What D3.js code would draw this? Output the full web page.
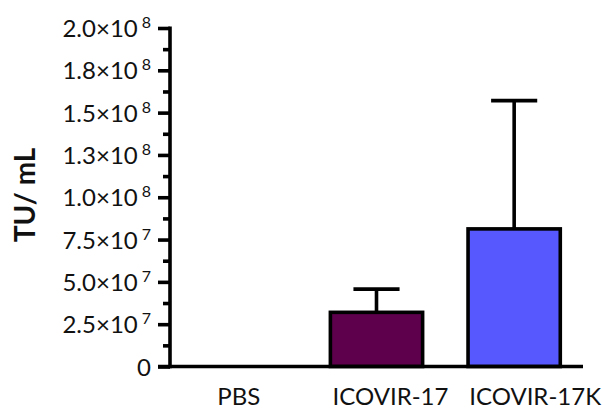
<!DOCTYPE html>
<html>
<head>
<meta charset="utf-8">
<script src="https://cdn.jsdelivr.net/npm/d3@7"></script>
<style>
  body { margin: 0; background: #fff; }
  text { font-family: Lato, "Open Sans", sans-serif; fill: #111; }
</style>
</head>
<body>
<script>
// data
var categories = ["PBS", "ICOVIR-17", "ICOVIR-17K"];
var means = [0, 3.2e7, 8.13e7];
var errors = [0, 1.37e7, 7.58e7];
var colors = ["#ffffff", "#5e004c", "#5858ff"];
var majorTicks = [0, 2.5e7, 5.0e7, 7.5e7, 1.0e8, 1.25e8, 1.5e8, 1.75e8, 2.0e8];
var tickLabels = ["0", "2.5×10|7", "5.0×10|7", "7.5×10|7", "1.0×10|8", "1.3×10|8", "1.5×10|8", "1.8×10|8", "2.0×10|8"];

// the category labels sit a bit right of the bar centres in the original
var labelShift = [0, 14, 21];
var lw = 3.6;

var svg = d3.select("body").append("svg")
    .attr("width", 602).attr("height", 412);

var y = d3.scaleLinear().domain([0, 2e8]).range([366.5, 28]);
var x = d3.scaleBand().domain(categories).range([170, 583])
    .paddingInner(0.33).paddingOuter(0.165);

// bars
svg.selectAll("rect.bar")
    .data(categories)
    .enter()
    .append("rect")
    .attr("class", "bar")
    .attr("x", function(d){ return x(d); })
    .attr("width", x.bandwidth())
    .attr("y", function(d, i){ return y(means[i]); })
    .attr("height", function(d, i){ return y(0) - y(means[i]); })
    .attr("fill", function(d, i){ return colors[i]; })
    .style("stroke", "#000")
    .style("stroke-width", function(d, i){ return means[i] > 0 ? lw : 0; });

// error bars (upper only)
var eb = svg.selectAll("g.err")
    .data(categories.filter(function(d, i){ return errors[i] > 0; }))
    .enter()
    .append("g").attr("class", "err");
eb.append("line")
    .attr("x1", function(d){ return x(d) + x.bandwidth() / 2; })
    .attr("x2", function(d){ return x(d) + x.bandwidth() / 2; })
    .attr("y1", function(d){ var i = categories.indexOf(d); return y(means[i]); })
    .attr("y2", function(d){ var i = categories.indexOf(d); return y(means[i] + errors[i]); })
    .style("stroke", "#000").style("stroke-width", lw);
eb.append("line")
    .attr("x1", function(d){ return x(d) + x.bandwidth() / 4; })
    .attr("x2", function(d){ return x(d) + x.bandwidth() * 3 / 4; })
    .attr("y1", function(d){ var i = categories.indexOf(d); return y(means[i] + errors[i]); })
    .attr("y2", function(d){ var i = categories.indexOf(d); return y(means[i] + errors[i]); })
    .style("stroke", "#000").style("stroke-width", lw);

// y axis: minor ticks
var minorTicks = d3.range(1.25e7, 2e8, 2.5e7);
var yMinor = d3.axisLeft(y).tickValues(minorTicks).tickSize(7).tickFormat("");
svg.append("g").attr("transform", "translate(170,0)").call(yMinor)
    .call(function(g){ g.select(".domain").remove(); })
    .selectAll("line").style("stroke", "#000").style("stroke-width", lw);

// y axis: major ticks
var yAxis = d3.axisLeft(y).tickValues(majorTicks).tickSize(12).tickFormat("");
var ga = svg.append("g").attr("transform", "translate(170,0)").call(yAxis);
ga.select(".domain").style("stroke", "#000").style("stroke-width", lw)
    .attr("d", "M0," + (y(2e8) - 1.5) + "V" + (y(0) + 1.8));
ga.selectAll("line").style("stroke", "#000").style("stroke-width", lw);

// tick labels with superscript exponents
svg.selectAll("text.ylab")
    .data(majorTicks)
    .enter()
    .append("text")
    .attr("class", "ylab")
    .attr("x", 151)
    .attr("y", function(d){ return y(d) + 9; })
    .attr("text-anchor", "end")
    .style("font-size", "24px")
    .each(function(d, i){
        var parts = tickLabels[i].split("|");
        var t = d3.select(this);
        t.append("tspan").text(parts[0]);
        if (parts[1]) {
            t.append("tspan").attr("dy", -9).attr("dx", 4)
                .style("font-size", "16px").text(parts[1]);
        }
    });

// x axis line
svg.append("line")
    .attr("x1", 158).attr("x2", 583)
    .attr("y1", y(0)).attr("y2", y(0))
    .style("stroke", "#000").style("stroke-width", lw);

// category labels
svg.selectAll("text.xlab")
    .data(categories)
    .enter()
    .append("text")
    .attr("class", "xlab")
    .attr("x", function(d, i){ return x(d) + x.bandwidth() / 2 + labelShift[i]; })
    .attr("y", 405)
    .attr("text-anchor", "middle")
    .style("font-size", "24px")
    .text(function(d){ return d; });

// y axis title
svg.append("text")
    .attr("transform", "translate(35,195) rotate(-90)")
    .attr("text-anchor", "middle")
    .style("font-size", "28px")
    .style("font-weight", "bold")
    .text("TU/ mL");
</script>
</body>
</html>
